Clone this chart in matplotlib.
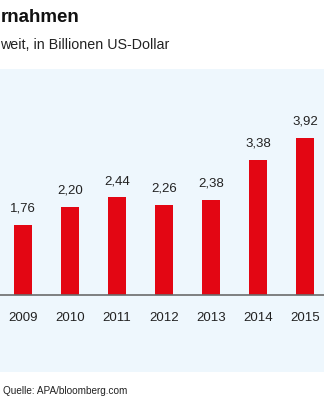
import matplotlib
matplotlib.use("Agg")
import matplotlib.pyplot as plt

years = ["2009", "2010", "2011", "2012", "2013", "2014", "2015"]
values = [1.76, 2.20, 2.44, 2.26, 2.38, 3.38, 3.92]
value_labels = ["1,76", "2,20", "2,44", "2,26", "2,38", "3,38", "3,92"]

plt.rcParams['font.family'] = ['Liberation Sans', 'DejaVu Sans']

W, H = 324, 400
fig = plt.figure(figsize=(W / 100, H / 100), dpi=100)
fig.patch.set_facecolor('white')

panel_top, panel_bot = 69, 372
ax = fig.add_axes([0, 1 - panel_bot / H, 1, (panel_bot - panel_top) / H])
ax.set_facecolor('#eef7fd')

base_px = 295
ppu = 40.0
ax.set_ylim(-(panel_bot - base_px) / ppu, (base_px - panel_top) / ppu)
step = 47.0
c0 = 23.0
ax.set_xlim(-c0 / step, (W - c0) / step)

x = list(range(len(years)))
ax.bar(x, values, width=18 / step, color='#e30613', zorder=2)
ax.axhline(0, color='#6b6b6b', lw=1.2, zorder=3)

for xi, v, lab in zip(x, values, value_labels):
    ax.annotate(lab, (xi, v), xytext=(0, 11.8), textcoords='offset points',
                ha='center', va='center', fontsize=9.5, color='#222222')
for xi, y in zip(x, years):
    ax.text(xi, -(318 - base_px) / ppu, y, ha='center', va='center',
            fontsize=9.5, color='#222222')

for s in ax.spines.values():
    s.set_visible(False)
ax.set_xticks([])
ax.set_yticks([])

fig.text(0.5 / W, 1 - 18 / H, "rnahmen", ha='left', va='center',
         fontsize=13.5, fontweight='bold', color='#111111')
fig.text(0.5 / W, 1 - 45 / H, "weit, in Billionen US-Dollar", ha='left',
         va='center', fontsize=10.3, color='#222222')
fig.text(3 / W, 1 - 391 / H, "Quelle: APA/bloomberg.com", ha='left', va='center',
         fontsize=7.2, color='#222222')

fig.savefig("out.png", dpi=100)
